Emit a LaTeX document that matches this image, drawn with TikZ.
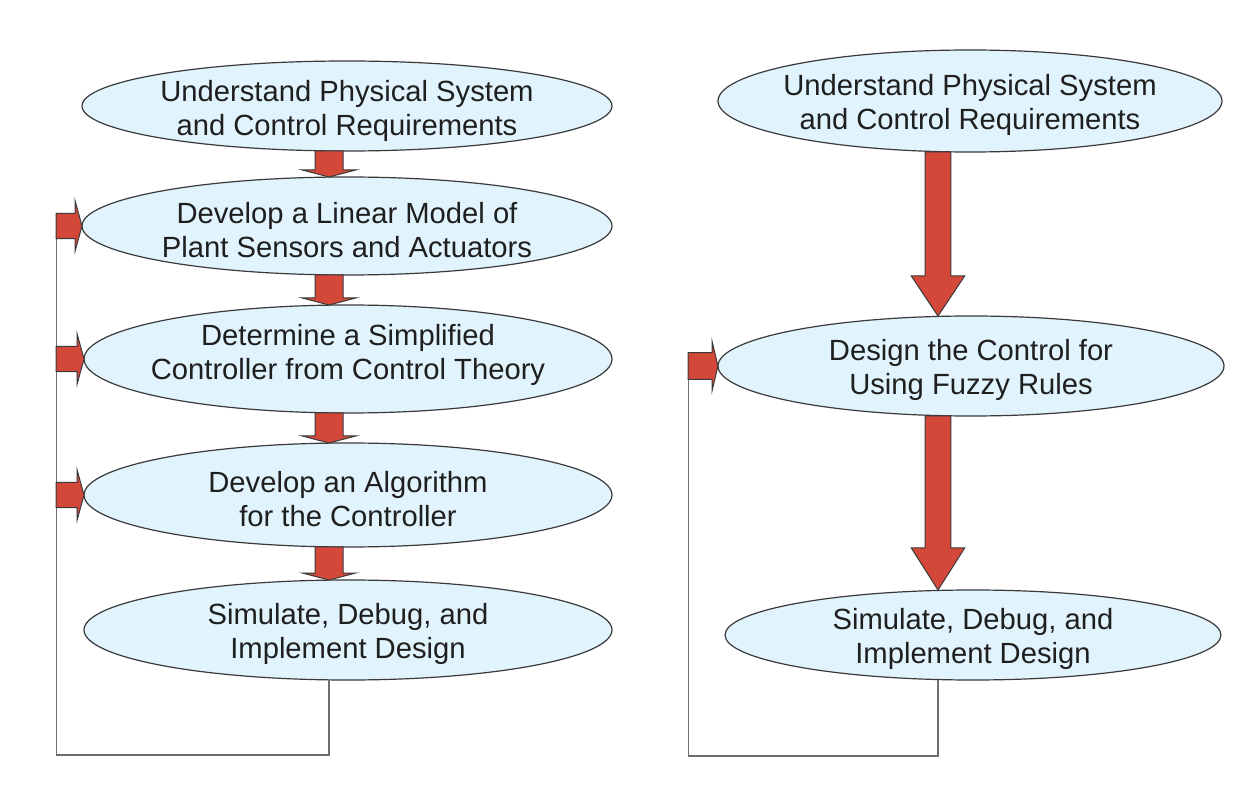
\documentclass[tikz,border=0pt]{standalone}
\usepackage{fontspec}
\setmainfont{Liberation Sans}
\usetikzlibrary{shapes.geometric,calc}
\definecolor{ellfill}{HTML}{E1F3FC}
\definecolor{ellline}{HTML}{3A3A3A}
\definecolor{arrred}{HTML}{D4483A}
\definecolor{fbgray}{HTML}{6E6E6E}
\definecolor{txtcol}{HTML}{1F1F1F}
\tikzset{
  elli/.style={ellipse, draw=ellline, fill=ellfill, line width=0.6pt, inner sep=0pt, outer sep=0pt},
  txt/.style={align=center, text=txtcol, font=\fontsize{14.6}{17}\selectfont, inner sep=0pt, yshift=-2pt},
  blockarrow/.style={fill=arrred, draw=ellline, line width=0.5pt, line join=miter},
  fbline/.style={draw=fbgray, line width=0.9pt}
}
% #1 x (px), #2 from node, #3 to node, #4 shaft half, #5 head half, #6 head length (px)
\newcommand\DownBlock[6]{%
  \path[blockarrow] let \p1=(#2.south), \p2=(#3.north), \p3=(#1,0) in
    (\x3-#4*0.5pt,\y1) -- (\x3+#4*0.5pt,\y1) -- (\x3+#4*0.5pt,\y2+#6*0.5pt)
    -- (\x3+#5*0.5pt,\y2+#6*0.5pt) -- (\x3,\y2) -- (\x3-#5*0.5pt,\y2+#6*0.5pt)
    -- (\x3-#4*0.5pt,\y2+#6*0.5pt) -- cycle;}
% #1 start coordinate (x), #2 to node, #3 shaft half, #4 head half, #5 head length (px)
\newcommand\RightBlock[5]{%
  \path[blockarrow] let \p1=(#1), \p2=(#2.west) in
    (\x1,\y2+#3*0.5pt) -- (\x2-#5*0.5pt,\y2+#3*0.5pt) -- (\x2-#5*0.5pt,\y2+#4*0.5pt)
    -- (\x2,\y2) -- (\x2-#5*0.5pt,\y2-#4*0.5pt) -- (\x2-#5*0.5pt,\y2-#3*0.5pt)
    -- (\x1,\y2-#3*0.5pt) -- cycle;}
\begin{document}
\begin{tikzpicture}[x=0.5pt,y=-0.5pt]
\useasboundingbox (0,0) rectangle (1260,786);
\fill[white] (0,0) rectangle (1260,786);

% ---------- left column ----------
\node[elli, minimum width=265pt, minimum height=45pt] (L1) at (347,106) {};
\node[elli, minimum width=265pt, minimum height=49pt] (L2) at (347,226) {};
\node[elli, minimum width=264pt, minimum height=54pt] (L3) at (348,359) {};
\node[elli, minimum width=264pt, minimum height=52pt] (L4) at (348,495) {};
\node[elli, minimum width=264pt, minimum height=50pt] (L5) at (348,630) {};

\node[txt] (T1) at ($(L1)+(0,1)$) {Understand Physical System\\and Control Requirements};
\node[txt] (T2) at (L2) {Develop a Linear Model of\\Plant Sensors and Actuators};
\node[txt] (T3) at ($(L3)+(0,-8)$) {Determine a Simplified\\Controller from Control Theory};
\node[txt] (T4) at (L4) {Develop an Algorithm\\for the Controller};
\node[txt] (T5) at (L5) {Simulate, Debug, and\\Implement Design};

\DownBlock{329}{L1}{L2}{14}{26.7}{7}
\DownBlock{329}{L2}{L3}{14}{26.7}{7}
\DownBlock{329}{L3}{L4}{14}{26.7}{7}
\DownBlock{329}{L4}{L5}{14}{26.7}{7}

\coordinate (LcolX) at (329,0);
\coordinate (LfbB) at (329,755);
\coordinate (LfbC) at (56.5,755);
\coordinate (LfbX) at (56,0);
\draw[fbline] (L5.south -| LcolX) -- (LfbB) -- (LfbC) -- (LfbC |- L2.west);

\RightBlock{LfbX}{L2}{12.7}{25.5}{7}
\RightBlock{LfbX}{L3}{12.7}{25.5}{7}
\RightBlock{LfbX}{L4}{12.7}{25.5}{7}

% ---------- right column ----------
\node[elli, minimum width=252pt, minimum height=51pt] (R1) at (970,101) {};
\node[elli, minimum width=253pt, minimum height=50pt] (R2) at (971,366) {};
\node[elli, minimum width=248pt, minimum height=45pt] (R3) at (973,635) {};

\node[txt] (U1) at (R1) {Understand Physical System\\and Control Requirements};
\node[txt] (U2) at (R2) {Design the Control for\\Using Fuzzy Rules};
\node[txt] (U3) at (R3) {Simulate, Debug, and\\Implement Design};

\DownBlock{938}{R1}{R2}{12.8}{26.7}{40}
\DownBlock{938}{R2}{R3}{12.8}{26.7}{42}

\coordinate (RcolX) at (938,0);
\coordinate (RfbB) at (938,756);
\coordinate (RfbC) at (688.5,756);
\coordinate (RfbX) at (688,0);
\draw[fbline] (R3.south -| RcolX) -- (RfbB) -- (RfbC) -- (RfbC |- R2.west);

\RightBlock{RfbX}{R2}{13.3}{25}{6}
\end{tikzpicture}
\end{document}
